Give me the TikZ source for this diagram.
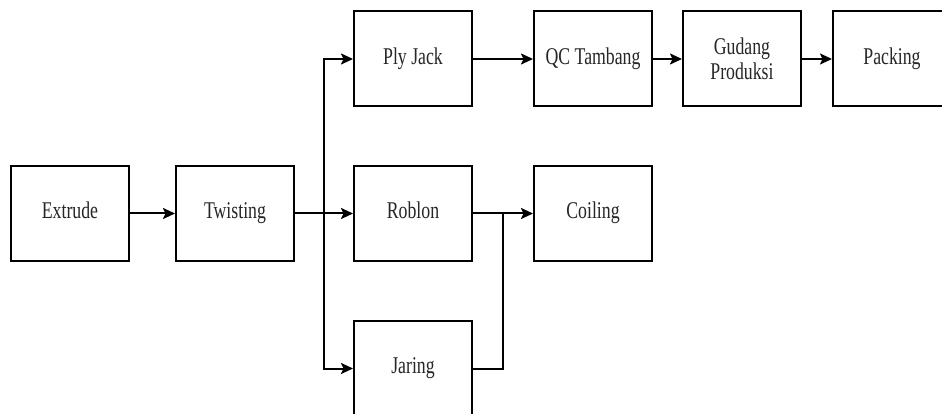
\documentclass[tikz,border=0pt]{standalone}
\usepackage{fontspec}
\setmainfont{Liberation Serif}[FakeStretch=0.74]
\usetikzlibrary{arrows.meta}
\tikzset{
  procbox/.style={draw, line width=2pt, minimum width=118pt, minimum height=95pt, inner sep=2pt, align=center, font=\fontsize{24}{25}\selectfont, text=black!85},
  oneline/.style={procbox, text height=1.05em, text depth=0em},
  conn/.style={line width=2pt, -{Stealth[length=12pt,width=11pt,inset=2.5pt]}},
  plain/.style={line width=2pt}
}
\begin{document}
\begin{tikzpicture}[x=1pt,y=-1pt]
\clip (0,0) rectangle (942,414);
\fill[white] (0,0) rectangle (942,414);
\node[oneline] (extrude) at (70,213.5) {Extrude};
\node[oneline] (twist) at (235,213.5) {Twisting};
\node[oneline] (ply) at (413,59) {Ply Jack};
\node[oneline] (qc) at (593,59) {QC Tambang};
\node[procbox] (gudang) at (742,59) {Gudang\\Produksi};
\node[oneline] (packing) at (892,59) {Packing};
\node[oneline] (roblon) at (413,213.5) {Roblon};
\node[oneline] (coiling) at (593,213.5) {Coiling};
\node[oneline] (jaring) at (413,368.5) {Jaring};
\coordinate (split) at (324,213.5);
\coordinate (merge) at (503,213.5);
\draw[conn] (extrude) -- (twist);
\draw[conn] (twist) -- (roblon);
\draw[conn] (split) |- (ply.west);
\draw[conn] (split) |- (jaring.west);
\draw[conn] (roblon) -- (coiling);
\draw[plain] (jaring.east) -| (merge);
\draw[conn] (ply) -- (qc);
\draw[conn] (qc) -- (gudang);
\draw[conn] (gudang) -- (packing);
\end{tikzpicture}
\end{document}
